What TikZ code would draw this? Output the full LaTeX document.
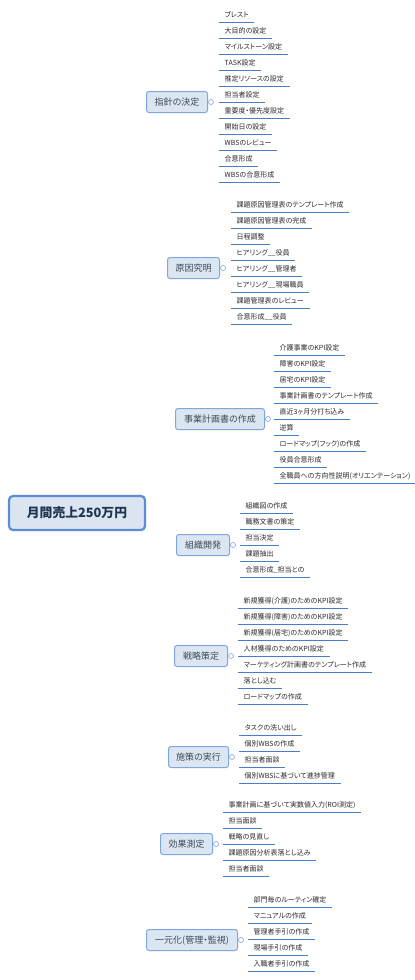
\documentclass[tikz,border=0pt]{standalone}
\usepackage{fontspec}
\setmainfont[RawFeature=+palt]{Noto Sans CJK JP}
\definecolor{cfill}{HTML}{DBE5F1}
\definecolor{cborder}{HTML}{5B8DD6}
\definecolor{mfill}{HTML}{DCE6F2}
\definecolor{mborder}{HTML}{7DA7DD}
\definecolor{ctext}{HTML}{1F3550}
\definecolor{mtext}{HTML}{3E4A58}
\definecolor{ltext}{HTML}{2A2A2A}
\definecolor{ulinec}{HTML}{4A7EC0}
\definecolor{connc}{HTML}{A9C6EE}
\pgfdeclarelayer{bg}
\pgfsetlayers{bg,main}
\newcommand\leafitem[5]{%
  \node[leafnode] (#1) at (#3,#4) {#5};
  \draw[leafline] (#1.south west) -- (#1.south east);
  \begin{pgfonlayer}{bg}
  \draw[connline] (#2.east) .. controls +(3,0) and +(-4,0) .. (#1.south west);
  \end{pgfonlayer}
}
\begin{document}
\begin{tikzpicture}[x=1pt,y=-1pt,
  centralbox/.style={draw=cborder, fill=cfill, line width=2.2pt, rounded corners=4pt,
    minimum width=136pt, minimum height=34pt, inner sep=0pt,
    font=\fontsize{12.8}{14}\selectfont\bfseries, text=ctext,
    text height=11.3pt, text depth=1.5pt},
  mainbox/.style={draw=mborder, fill=mfill, line width=1pt, rounded corners=2.5pt,
    minimum height=21pt, inner xsep=2pt, inner ysep=0pt, anchor=west,
    font=\fontsize{9}{10}\selectfont, text=mtext, text height=8pt, text depth=1.2pt},
  knob/.style={circle, draw=mborder, fill=white, line width=0.6pt, minimum size=5pt, inner sep=0pt},
  leafnode/.style={anchor=south west, inner xsep=5.5pt, inner ysep=4.3pt,
    font=\fontsize{7}{8}\selectfont, text=ltext, text height=6pt, text depth=0pt},
  leafline/.style={draw=ulinec, line width=1pt},
  connline/.style={draw=connc, line width=0.8pt}]
\useasboundingbox (0,0) rectangle (415,980);
\fill[white] (0,0) rectangle (415,980);

% central
\node[centralbox] (c) at (77,513) {月間売上250万円};

% main topics
\node[mainbox, minimum width=61pt] (m1) at (146,102) {指針の決定};
\node[mainbox, minimum width=52pt] (m2) at (167,268) {原因究明};
\node[mainbox, minimum width=89pt] (m3) at (175,419) {事業計画書の作成};
\node[mainbox, minimum width=53pt] (m4) at (176,545) {組織開発};
\node[mainbox, minimum width=53pt] (m5) at (174,656) {戦略策定};
\node[mainbox, minimum width=60pt] (m6) at (168,757) {施策の実行};
\node[mainbox, minimum width=52pt] (m7) at (160,844) {効果測定};
\node[mainbox, minimum width=91pt] (m8) at (146,940) {一元化(管理・監視)};

\foreach \i in {1,...,8} {\node[knob] (k\i) at ([xshift=3pt]m\i.east) {};}

% central connectors
\coordinate (s1) at (81,496);
\coordinate (s2) at (83,496);
\coordinate (s3) at (95,496);
\coordinate (s4) at (132,530);
\coordinate (s5) at (89,530);
\coordinate (s6) at (85,530);
\coordinate (s7) at (83,530);
\coordinate (s8) at (81,530);
\begin{pgfonlayer}{bg}
\draw[connline] (s1) .. controls +(14,-166) and +(-36,0) .. (m1.west);
\draw[connline] (s2) .. controls +(12,-106) and +(-39,0) .. (m2.west);
\draw[connline] (s3) .. controls +(5,-46) and +(-50,0) .. (m3.west);
\draw[connline] (s4) .. controls +(8,10) and +(-16,0) .. (m4.west);
\draw[connline] (s5) .. controls +(11,65) and +(-39,0) .. (m5.west);
\draw[connline] (s6) .. controls +(10,110) and +(-38,0) .. (m6.west);
\draw[connline] (s7) .. controls +(9,140) and +(-35,0) .. (m7.west);
\draw[connline] (s8) .. controls +(9,170) and +(-31,0) .. (m8.west);
\end{pgfonlayer}

% branch 1
\leafitem{l1a}{k1}{219}{22}{ブレスト}
\leafitem{l1b}{k1}{219}{38}{大目的の設定}
\leafitem{l1c}{k1}{219}{54}{マイルストーン設定}
\leafitem{l1d}{k1}{219}{70}{TASK設定}
\leafitem{l1e}{k1}{219}{86}{推定リソースの設定}
\leafitem{l1f}{k1}{219}{102}{担当者設定}
\leafitem{l1g}{k1}{219}{118}{重要度・優先度設定}
\leafitem{l1h}{k1}{219}{134}{開始日の設定}
\leafitem{l1i}{k1}{219}{150}{WBSのレビュー}
\leafitem{l1j}{k1}{219}{166}{合意形成}
\leafitem{l1k}{k1}{219}{182}{WBSの合意形成}

% branch 2
\leafitem{l2a}{k2}{231}{212}{課題原因管理表のテンプレート作成}
\leafitem{l2b}{k2}{231}{228}{課題原因管理表の完成}
\leafitem{l2c}{k2}{231}{244}{日程調整}
\leafitem{l2d}{k2}{231}{260}{ヒアリング\_\_役員}
\leafitem{l2e}{k2}{231}{276}{ヒアリング\_\_管理者}
\leafitem{l2f}{k2}{231}{292}{ヒアリング\_\_現場職員}
\leafitem{l2g}{k2}{231}{308}{課題管理表のレビュー}
\leafitem{l2h}{k2}{231}{324}{合意形成\_\_役員}

% branch 3
\leafitem{l3a}{k3}{274}{355}{介護事業のKPI設定}
\leafitem{l3b}{k3}{274}{371}{障害のKPI設定}
\leafitem{l3c}{k3}{274}{387}{居宅のKPI設定}
\leafitem{l3d}{k3}{274}{403}{事業計画書のテンプレート作成}
\leafitem{l3e}{k3}{274}{419}{直近3ヶ月分打ち込み}
\leafitem{l3f}{k3}{274}{435}{逆算}
\leafitem{l3g}{k3}{274}{451}{ロードマップ(フック)の作成}
\leafitem{l3h}{k3}{274}{467}{役員合意形成}
\leafitem{l3i}{k3}{274}{483}{全職員への方向性説明(オリエンテーション)}

% branch 4
\leafitem{l4a}{k4}{240}{513}{組織図の作成}
\leafitem{l4b}{k4}{240}{529}{職務文書の策定}
\leafitem{l4c}{k4}{240}{545}{担当決定}
\leafitem{l4d}{k4}{240}{561}{課題抽出}
\leafitem{l4e}{k4}{240}{577}{合意形成\_担当との}

% branch 5
\leafitem{l5a}{k5}{238}{608}{新規獲得(介護)のためのKPI設定}
\leafitem{l5b}{k5}{238}{624}{新規獲得(障害)のためのKPI設定}
\leafitem{l5c}{k5}{238}{640}{新規獲得(居宅)のためのKPI設定}
\leafitem{l5d}{k5}{238}{656}{人材獲得のためのKPI設定}
\leafitem{l5e}{k5}{238}{672}{マーケティング計画書のテンプレート作成}
\leafitem{l5f}{k5}{238}{688}{落とし込む}
\leafitem{l5g}{k5}{238}{704}{ロードマップの作成}

% branch 6
\leafitem{l6a}{k6}{239}{735}{タスクの洗い出し}
\leafitem{l6b}{k6}{239}{751}{個別WBSの作成}
\leafitem{l6c}{k6}{239}{767}{担当者面談}
\leafitem{l6d}{k6}{239}{783}{個別WBSに基づいて進捗管理}

% branch 7
\leafitem{l7a}{k7}{223}{812}{事業計画に基づいて実数値入力(ROI測定)}
\leafitem{l7b}{k7}{223}{828}{担当面談}
\leafitem{l7c}{k7}{223}{844}{戦略の見直し}
\leafitem{l7d}{k7}{223}{860}{課題原因分析表落とし込み}
\leafitem{l7e}{k7}{223}{876}{担当者面談}

% branch 8
\leafitem{l8a}{k8}{248}{907}{部門毎のルーティン確定}
\leafitem{l8b}{k8}{248}{923}{マニュアルの作成}
\leafitem{l8c}{k8}{248}{939}{管理者手引の作成}
\leafitem{l8d}{k8}{248}{955}{現場手引の作成}
\leafitem{l8e}{k8}{248}{971}{入職者手引の作成}
\end{tikzpicture}
\end{document}
